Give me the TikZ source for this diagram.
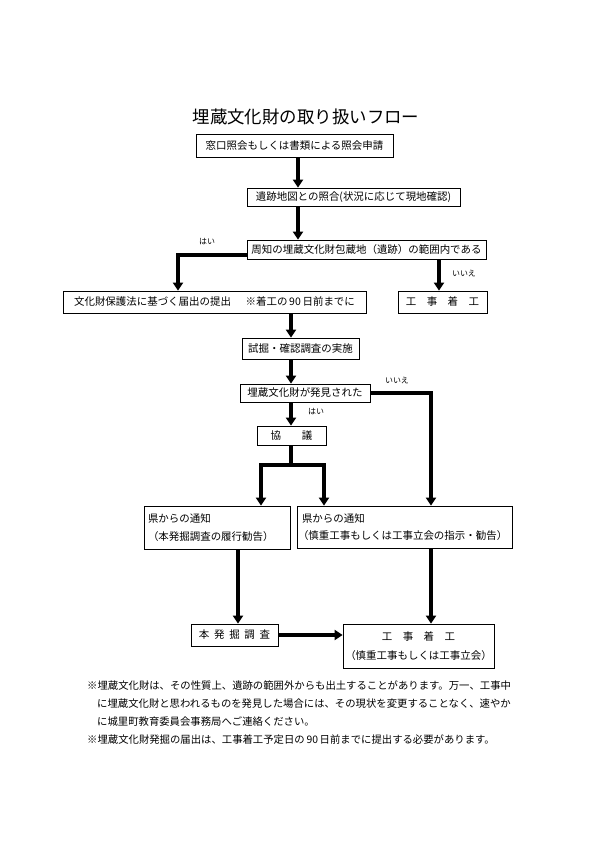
\documentclass[tikz,border=0pt]{standalone}
\usepackage{fontspec}
\setmainfont{Noto Sans CJK JP}
\usetikzlibrary{arrows.meta}
\begin{document}
\begin{tikzpicture}[x=1bp,y=-1bp,
  box/.style={draw,line width=0.8bp,inner sep=0pt,font=\fontsize{10.5}{12}\selectfont},
  twobox/.style={draw,line width=0.8bp,inner xsep=3bp,inner ysep=0pt,align=left,font=\fontsize{10.5}{18}\selectfont},
  flow/.style={line width=3.6bp,-{Triangle[width=10bp,length=8bp]}},
  link/.style={line width=3.6bp},
  lbl/.style={font=\fontsize{8}{9}\selectfont,inner sep=0pt},
  note/.style={font=\fontsize{10.4}{12}\selectfont,inner sep=0pt,anchor=west},
]
\useasboundingbox (0,0) rectangle (595,842);
\fill[white] (0,0) rectangle (595,842);

% title
\node[font=\fontsize{17.5}{20}\selectfont] (title) at (306,117) {埋蔵文化財の取り扱いフロー};

% boxes
\node[box,minimum width=197bp,minimum height=23bp] (b1) at (294.5,145.5) {窓口照会もしくは書類による照会申請};
\node[box,minimum width=213bp,minimum height=18bp] (b2) at (353.5,197) {遺跡地図との照合(状況に応じて現地確認)};
\node[box,minimum width=239bp,minimum height=19bp] (b3) at (366.5,249.5) {周知の埋蔵文化財包蔵地（遺跡）の範囲内である};
\node[box,minimum width=303bp,minimum height=22bp] (b4) at (214.5,302) {文化財保護法に基づく届出の提出\hspace{1.4em}※着工の\,90\,日前までに};
\node[box,minimum width=89bp,minimum height=22bp] (b5) at (442.5,302) {工\hspace{1em}事\hspace{1em}着\hspace{1em}工};
\node[box,minimum width=117bp,minimum height=21bp] (b6) at (300.5,348.5) {試掘・確認調査の実施};
\node[box,minimum width=130bp,minimum height=18bp] (b7) at (305,393) {埋蔵文化財が発見された};
\node[box,minimum width=69bp,minimum height=19bp] (b8) at (291.5,435.5) {協\hspace{2em}議};
\node[twobox,text width=138bp,inner xsep=4bp,minimum height=43bp] (b9) at (217,527.5) {県からの通知\\（本発掘調査の履行勧告）};
\node[twobox,inner xsep=5bp,text width=205bp,minimum height=42bp] (b10) at (404.5,527) {県からの通知\\[-0.2pt]\hspace*{-4bp}（慎重工事もしくは工事立会の指示・勧告）};
\node[box,minimum width=87bp,minimum height=22bp] (b11) at (234.5,635) {本\hspace{0.45em}発\hspace{0.45em}掘\hspace{0.45em}調\hspace{0.45em}査};
\node[box,align=center,font=\fontsize{10.5}{19}\selectfont,minimum width=151bp,minimum height=44bp] (b12) at (418.5,646) {工\hspace{1em}事\hspace{1em}着\hspace{1em}工\\（慎重工事もしくは工事立会）};

% guide coordinates
\coordinate (xa) at (298,0);
\coordinate (xb) at (291,0);
\coordinate (xl) at (178,0);
\coordinate (xn) at (439,0);
\coordinate (xr) at (431,0);
\coordinate (xs1) at (261,0);
\coordinate (xs2) at (324,0);
\coordinate (xd) at (238,0);
\coordinate (y3) at (0,255);
\coordinate (ys) at (0,465);

% connectors
\draw[flow] (b1.south -| xa) -- (b2.north -| xa);
\draw[flow] (b2.south -| xa) -- (b3.north -| xa);
\draw[flow] (b3.west |- y3) -| (b4.north -| xl);
\draw[flow] (b3.south -| xn) -- (b5.north -| xn);
\draw[flow] (b4.south -| xb) -- (b6.north -| xb);
\draw[flow] (b6.south -| xb) -- (b7.north -| xb);
\draw[flow] (b7.south -| xb) -- (b8.north -| xb);
\draw[flow] (b7.east) -| (b10.north -| xr);
\draw[link] (b8.south -| xb) -- (xb |- ys);
\draw[flow] (xb |- ys) -| (b9.north -| xs1);
\draw[flow] (xb |- ys) -| (b10.north -| xs2);
\draw[flow] (b9.south -| xd) -- (b11.north -| xd);
\draw[flow] (b10.south -| xr) -- (b12.north -| xr);
\draw[flow] (b11.east) -- (b12.west |- b11.east);

% labels
\node[lbl] (yes1) at (207,242) {はい};
\node[lbl] (no1) at (464,274) {いいえ};
\node[lbl] (no2) at (397,381) {いいえ};
\node[lbl] (yes2) at (316,412) {はい};

% notes
\node[note] (n1) at (87,686) {※埋蔵文化財は、その性質上、遺跡の範囲外からも出土することがあります。万一、工事中};
\node[note] (n2) at (97,704) {に埋蔵文化財と思われるものを発見した場合には、その現状を変更することなく、速やか};
\node[note] (n3) at (97,722) {に城里町教育委員会事務局へご連絡ください。};
\node[note] (n4) at (87,740) {※埋蔵文化財発掘の届出は、工事着工予定日の\,90\,日前までに提出する必要があります。};
\end{tikzpicture}
\end{document}
